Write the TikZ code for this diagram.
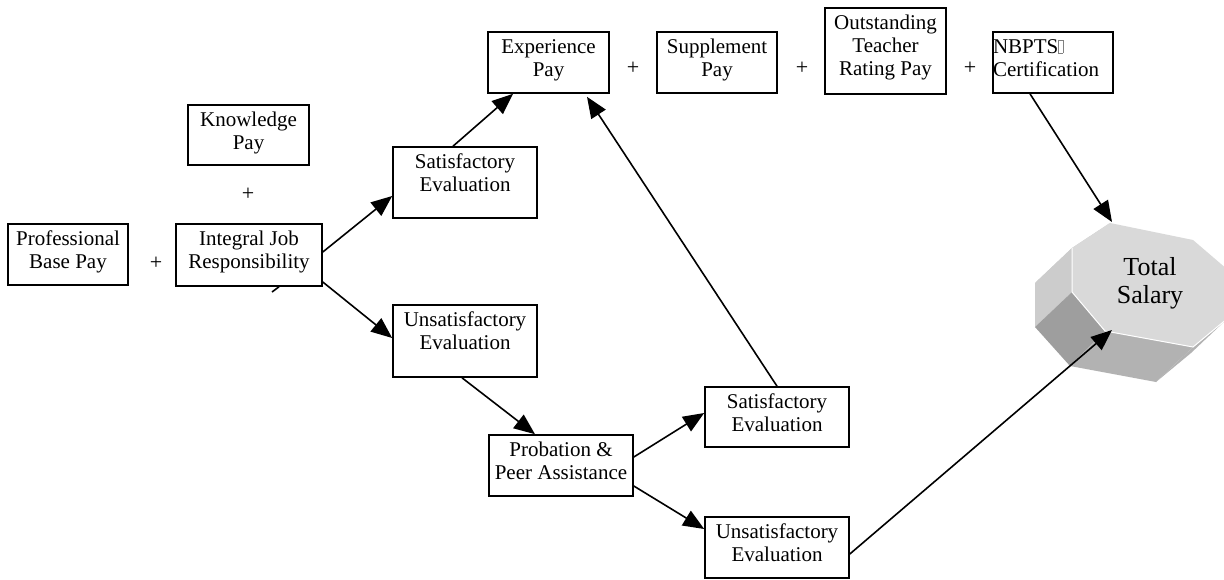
\documentclass[tikz,border=0pt]{standalone}
\usepackage{fontspec}
\setmainfont{Liberation Serif}
\usetikzlibrary{arrows.meta}
\newcommand{\bxt}[3]{\parbox[c][#2][t]{#1}{\centering\rule{0pt}{21pt}#3}}
\newcommand{\bxl}[3]{\parbox[c][#2][t]{#1}{\raggedright\rule{0pt}{21pt}#3}}
\newcommand{\missglyph}{{\color{gray}\setlength{\fboxrule}{0.4pt}\setlength{\fboxsep}{0pt}\fbox{\rule{0pt}{13pt}\hspace{4pt}}}}
\definecolor{octfront}{gray}{0.85}
\definecolor{octleft}{gray}{0.80}
\definecolor{octdark}{gray}{0.62}
\definecolor{octbottom}{gray}{0.70}
\begin{document}
\begin{tikzpicture}[x=1pt,y=-1pt,
  bx/.style={draw=black,line width=1.6pt,inner sep=0pt,fill=white,
    font=\fontsize{21}{23}\selectfont},
  plus/.style={inner sep=0pt,font=\fontsize{22}{23}\selectfont},
  arr/.style={line width=1.6pt,-{Triangle[length=21pt,width=17pt]}},
  ln/.style={line width=1.6pt}]
\fill[white] (0,0) rectangle (1224,579);
\useasboundingbox (0,0) rectangle (1224,579);

% boxes
\node[bx] (prof) at (68,254.5) {\bxt{120pt}{61pt}{Professional\\Base Pay}};
\node[bx] (integ) at (249,255) {\bxt{146pt}{62pt}{Integral Job\\Responsibility}};
\node[bx] (know) at (248.5,135) {\bxt{121pt}{60pt}{Knowledge\\Pay}};
\node[bx] (sat1) at (465,182.5) {\bxt{144pt}{71pt}{Satisfactory\\Evaluation}};
\node[bx] (unsat1) at (465,341) {\bxt{144pt}{72pt}{Unsatisfactory\\Evaluation}};
\node[bx] (prob) at (561,465.5) {\bxt{144pt}{61pt}{Probation \&\\Peer Assistance}};
\node[bx] (sat2) at (777,417) {\bxt{144pt}{60pt}{Satisfactory\\Evaluation}};
\node[bx] (unsat2) at (777,547.5) {\bxt{144pt}{61pt}{Unsatisfactory\\Evaluation}};
\node[bx] (exp) at (548.5,62.5) {\bxt{121pt}{61pt}{Experience\\Pay}};
\node[bx] (supp) at (717,62.5) {\bxt{120pt}{61pt}{Supplement\\Pay}};
\node[bx] (outst) at (885.5,51) {\bxt{121pt}{86pt}{Outstanding\\Teacher\\Rating Pay}};
\node[bx] (nbpts) at (1053,62.5) {\bxl{120pt}{61pt}{NBPTS\missglyph\\Certification}};

% plus signs
\node[plus] (p1) at (156,263) {+};
\node[plus] (p2) at (248,194) {+};
\node[plus] (p3) at (633,68) {+};
\node[plus] (p4) at (802,68) {+};
\node[plus] (p5) at (970,68) {+};

% octagon (3D)
\coordinate (F1) at (1110,223);
\coordinate (F2) at (1193,240);
\coordinate (F3) at (1228,270);
\coordinate (F4) at (1228,318);
\coordinate (F5) at (1193,347);
\coordinate (F6) at (1105,331);
\coordinate (F7) at (1072,292);
\coordinate (F8) at (1072,248);
\coordinate (B4) at (1191,353);
\coordinate (B5) at (1156,382);
\coordinate (B6) at (1070,366);
\coordinate (B7) at (1035,327);
\coordinate (B8) at (1035,283);
\fill[octleft] (F1) -- (F8) -- (B8) -- cycle;
\fill[octleft] (F8) -- (F7) -- (B7) -- (B8) -- cycle;
\fill[octdark] (F7) -- (F6) -- (B6) -- (B7) -- cycle;
\fill[octbottom] (F6) -- (F5) -- (B5) -- (B6) -- cycle;
\fill[octbottom] (F5) -- (F4) -- (B4) -- (B5) -- cycle;
\fill[octfront] (F1) -- (F2) -- (F3) -- (F4) -- (F5) -- (F6) -- (F7) -- (F8) -- cycle;
\draw[white,line width=1pt] (F8) -- (F7) -- (F6) -- (F5) -- (F4);
\node[inner sep=0pt,align=center,font=\fontsize{26}{28}\selectfont] (total) at (1150,283) {Total\\Salary};
\coordinate (octTL) at (1112,222);
\coordinate (octBL) at (1112,330);
\coordinate (frag) at (272,292);

% connectors
\draw[arr] ([yshift=3pt]integ.east) -- ([yshift=-13.5pt]sat1.west);
\draw[arr] ([yshift=-27pt]integ.east) -- ([yshift=3pt]unsat1.west);
\draw[ln] ([xshift=30pt]integ.south) -- (frag);
\draw[arr] ([xshift=-12pt]sat1.north) -- ([xshift=-35.5pt]exp.south);
\draw[arr] ([xshift=-3pt]unsat1.south) -- ([xshift=-26pt]prob.north);
\draw[arr] ([yshift=8.5pt]prob.east) -- ([yshift=4pt]sat2.west);
\draw[arr] ([yshift=-20.5pt]prob.east) -- ([yshift=18.5pt]unsat2.west);
\draw[arr] (sat2.north) -- ([xshift=38.5pt,yshift=-3pt]exp.south);
\draw[arr] ([xshift=-23pt]nbpts.south) -- (octTL);
\draw[arr] ([yshift=-6.5pt]unsat2.east) -- (octBL);
\end{tikzpicture}
\end{document}
